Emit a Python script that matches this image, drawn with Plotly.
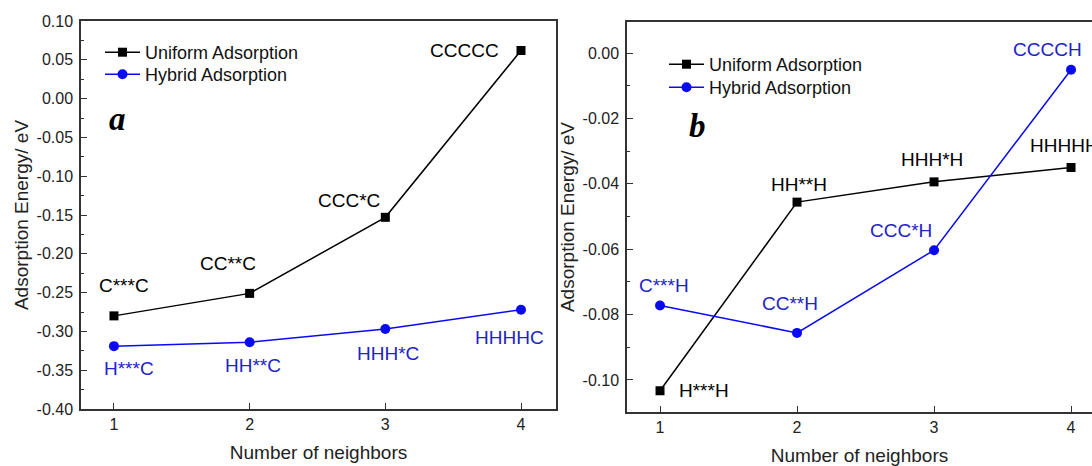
import plotly.graph_objects as go

# ---------------- data ----------------
neighbors = [1, 2, 3, 4]
x_tick_text = ["1", "2", "3", "4"]

a_uniform = [-0.280, -0.251, -0.153, 0.062]
a_hybrid = [-0.319, -0.314, -0.297, -0.272]
a_uniform_labels = ["C***C", "CC**C", "CCC*C", "CCCCC"]
a_hybrid_labels = ["H***C", "HH**C", "HHH*C", "HHHHC"]

b_uniform = [-0.1033, -0.0456, -0.0394, -0.0350]
b_hybrid = [-0.0772, -0.0856, -0.0603, -0.0051]
b_uniform_labels = ["H***H", "HH**H", "HHH*H", "HHHHH"]
b_hybrid_labels = ["C***H", "CC**H", "CCC*H", "CCCCH"]

a_yticks = [0.10, 0.05, 0.00, -0.05, -0.10, -0.15, -0.20, -0.25, -0.30, -0.35, -0.40]
a_yticktext = ["0.10", "0.05", "0.00", "-0.05", "-0.10", "-0.15", "-0.20", "-0.25", "-0.30", "-0.35", "-0.40"]
b_yticks = [0.00, -0.02, -0.04, -0.06, -0.08, -0.10]
b_yticktext = ["0.00", "-0.02", "-0.04", "-0.06", "-0.08", "-0.10"]

series_names = ["Uniform Adsorption", "Hybrid Adsorption"]

# ---------------- styles ----------------
FONT = "Liberation Sans, Arial, sans-serif"
BLACK = "#000000"
BLUE = "#0a0af0"
BLUE_TEXT = "#2222c8"
AXIS = "#333333"
TXT = "#222222"
W, H = 1092, 466

# label offsets (px) relative to their data point
a_uni_off = [(10, 30), (-22, 30), (-36, 17), (-57, 0)]
a_hyb_off = [(15, -22), (3, -23), (3, -24), (-12, -28)]
b_uni_off = [(17, 0, "left"), (2, 18, "center"), (-2, 22, "center"), (-43, 22, "left")]
b_hyb_off = [(4, 20), (-7, 29), (-33, 20), (-24, 20)]

# legend boxes (px from top-left): one legend per entry
leg_pos = {"legend": (100, 34), "legend2": (100, 56), "legend3": (664, 46), "legend4": (664, 69)}

fig = go.Figure()

panels = [("x", "y", a_uniform, a_hybrid, "legend", "legend2"),
          ("x2", "y2", b_uniform, b_hybrid, "legend3", "legend4")]
for xa, ya, uni, hyb, lg1, lg2 in panels:
    fig.add_trace(go.Scatter(x=neighbors, y=uni, mode="lines+markers", name=series_names[0],
                             line=dict(color=BLACK, width=1.5),
                             marker=dict(symbol="square", size=9, color=BLACK),
                             xaxis=xa, yaxis=ya, legend=lg1, cliponaxis=False))
    fig.add_trace(go.Scatter(x=neighbors, y=hyb, mode="lines+markers", name=series_names[1],
                             line=dict(color=BLUE, width=1.5),
                             marker=dict(symbol="circle", size=10, color=BLUE),
                             xaxis=xa, yaxis=ya, legend=lg2, cliponaxis=False))

annotations = []
LBL = 19
for xv, yv, t, (dx, dy) in zip(neighbors, a_uniform, a_uniform_labels, a_uni_off):
    annotations.append(dict(x=xv, y=yv, xref="x", yref="y", text=t, showarrow=False,
                            xshift=dx, yshift=dy, font=dict(family=FONT, size=LBL, color=BLACK)))
for xv, yv, t, (dx, dy) in zip(neighbors, a_hybrid, a_hybrid_labels, a_hyb_off):
    annotations.append(dict(x=xv, y=yv, xref="x", yref="y", text=t, showarrow=False,
                            xshift=dx, yshift=dy, font=dict(family=FONT, size=LBL, color=BLUE_TEXT)))
for xv, yv, t, (dx, dy, anc) in zip(neighbors, b_uniform, b_uniform_labels, b_uni_off):
    annotations.append(dict(x=xv, y=yv, xref="x2", yref="y2", text=t, showarrow=False,
                            xanchor=anc, xshift=dx, yshift=dy,
                            font=dict(family=FONT, size=LBL, color=BLACK)))
for xv, yv, t, (dx, dy) in zip(neighbors, b_hybrid, b_hybrid_labels, b_hyb_off):
    annotations.append(dict(x=xv, y=yv, xref="x2", yref="y2", text=t, showarrow=False,
                            xshift=dx, yshift=dy, font=dict(family=FONT, size=LBL, color=BLUE_TEXT)))

# panel letters
SERIF = "Liberation Serif, Times New Roman, serif"
annotations.append(dict(x=117 / W, y=1 - 119 / H, xref="paper", yref="paper", text="<b><i>a</i></b>",
                        xanchor="center", yanchor="middle", showarrow=False,
                        font=dict(family=SERIF, size=33, color=BLACK)))
annotations.append(dict(x=697 / W, y=1 - 126 / H, xref="paper", yref="paper", text="<b><i>b</i></b>",
                        xanchor="center", yanchor="middle", showarrow=False,
                        font=dict(family=SERIF, size=33, color=BLACK)))


def mids(vals):
    return [(vals[i] + vals[i + 1]) / 2 for i in range(len(vals) - 1)]


common_axis = dict(showgrid=False, zeroline=False, showline=True, linecolor=AXIS, linewidth=1.5,
                   ticks="inside", ticklen=6, tickwidth=1.2, tickcolor=AXIS, automargin=False,
                   tickfont=dict(family=FONT, size=16, color=TXT))
title_font = dict(family=FONT, size=19, color=TXT)

legends = {}
for key, (lx, ly) in leg_pos.items():
    legends[key] = dict(x=lx / W, y=1 - ly / H, xanchor="left", yanchor="top", bgcolor="rgba(0,0,0,0)",
                        font=dict(family=FONT, size=18, color="#111111"), itemwidth=35)

fig.update_layout(
    width=W, height=H,
    margin=dict(l=0, r=0, t=0, b=0, autoexpand=False),
    paper_bgcolor="white", plot_bgcolor="white",
    showlegend=True,
    xaxis=dict(domain=[81 / W, 556 / W], range=[0.757, 4.258], anchor="y",
               tickmode="array", tickvals=neighbors, ticktext=x_tick_text, mirror=True,
               title=dict(text="Number of neighbors", font=title_font, standoff=14),
               **common_axis),
    yaxis=dict(domain=[1 - 409 / H, 1 - 21 / H], range=[-0.40, 0.10], anchor="x",
               tickmode="array", tickvals=a_yticks, ticktext=a_yticktext, mirror=True,
               ticklabelstandoff=3,
               minor=dict(tickmode="array", tickvals=mids(a_yticks), ticks="inside", ticklen=3, tickcolor=AXIS),
               title=dict(text="Adsorption Energy/ eV", font=title_font, standoff=3),
               **common_axis),
    xaxis2=dict(domain=[627 / W, 1.0], range=[0.759, 4.153], anchor="y2",
                tickmode="array", tickvals=neighbors, ticktext=x_tick_text, mirror=True,
                title=dict(text="Number of neighbors", font=title_font, standoff=16),
                **common_axis),
    yaxis2=dict(domain=[1 - 412 / H, 1 - 22 / H], range=[-0.1098, 0.0095], anchor="x2",
                tickmode="array", tickvals=b_yticks, ticktext=b_yticktext, mirror=False,
                ticklabelstandoff=3,
                minor=dict(tickmode="array", tickvals=mids(b_yticks) + [0.01], ticks="inside", ticklen=3, tickcolor=AXIS),
                title=dict(text="Adsorption Energy/ eV", font=title_font, standoff=3),
                **common_axis),
    annotations=annotations,
    **legends,
)

fig.write_html("out.html", config={"displayModeBar": False},
               post_script="document.body.style.margin='0';document.body.style.overflow='hidden';")
